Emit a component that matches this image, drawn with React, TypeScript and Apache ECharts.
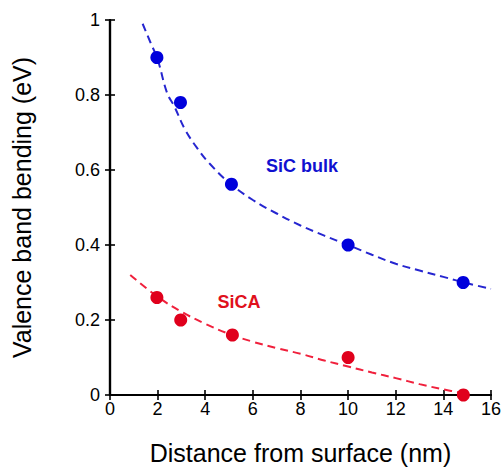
import React, { useEffect, useRef } from "react";
import * as echarts from "echarts";

// Measured points (distance nm, band bending eV)
const sicBulkPoints: [number, number][] = [
  [1.97, 0.9],
  [2.96, 0.78],
  [5.1, 0.562],
  [10.0, 0.4],
  [14.83, 0.3],
];
const sicaPoints: [number, number][] = [
  [1.97, 0.26],
  [2.97, 0.2],
  [5.14, 0.16],
  [10.0, 0.1],
  [14.84, 0.0],
];
// Dashed fit curves
const sicBulkFit: [number, number][] = [
  [1.37, 0.99], [1.7, 0.94], [2.0, 0.895], [2.4, 0.805], [2.7, 0.77],
  [3.15, 0.708], [3.7, 0.655], [4.2, 0.616], [5.0, 0.566], [6.0, 0.52],
  [7.0, 0.484], [8.0, 0.452], [9.0, 0.425], [10.0, 0.4], [11.0, 0.374],
  [12.0, 0.35], [13.0, 0.332], [14.0, 0.315], [15.0, 0.298], [16.0, 0.283],
];
const sicaFit: [number, number][] = [
  [0.85, 0.32], [2.0, 0.262], [3.0, 0.222], [4.0, 0.19], [5.0, 0.163],
  [6.0, 0.142], [7.0, 0.125], [8.0, 0.11], [9.0, 0.092], [10.0, 0.076],
  [11.0, 0.06], [12.0, 0.045], [13.0, 0.029], [14.0, 0.015], [15.0, 0.003],
];
const xTicks = { min: 0, max: 16, interval: 2 };
const yTicks = { min: 0, max: 1, interval: 0.2 };
const xTitle = "Distance from surface (nm)";
const yTitle = "Valence band bending (eV)";
const labelBulk = "SiC bulk";
const labelSica = "SiCA";

const FONT = "'Liberation Sans', Arial, Helvetica, sans-serif";
const BLUE_DOT = "#0000dc";
const BLUE_LINE = "#2626d0";
const RED_DOT = "#e0001c";
const RED_LINE = "#f0203c";

export default function App() {
  const ref = useRef<HTMLDivElement>(null);
  useEffect(() => {
    document.body.style.margin = "0";
    const chart = echarts.init(ref.current!, null, { renderer: "svg" });
    const axisLine = { show: true, lineStyle: { color: "#000", width: 2.2 } };
    const tick = { show: true, inside: true, length: 5, lineStyle: { color: "#000", width: 1.6 } };
    const yFmt = (v: number) => (v === 0 ? "0" : v === 1 ? "1" : String(Math.round(v * 10) / 10));
    chart.setOption({
      animation: false,
      backgroundColor: "#fff",
      grid: { left: 110, top: 20, right: 13, bottom: 68 },
      xAxis: [
        {
          type: "value",
          ...xTicks,
          position: "bottom",
          axisLine,
          axisTick: tick,
          splitLine: { show: false },
          axisLabel: { color: "#000", fontSize: 18, fontFamily: FONT, margin: 5 },
          name: xTitle,
          nameLocation: "middle",
          nameGap: 45,
          nameTextStyle: { color: "#000", fontSize: 25, fontFamily: FONT },
        },
        {
          type: "value",
          ...xTicks,
          position: "top",
          axisLine,
          axisTick: tick,
          splitLine: { show: false },
          axisLabel: { show: false },
        },
      ],
      yAxis: [
        {
          type: "value",
          ...yTicks,
          position: "left",
          axisLine,
          axisTick: tick,
          splitLine: { show: false },
          axisLabel: { color: "#000", fontSize: 18, fontFamily: FONT, margin: 10, formatter: yFmt },
          name: yTitle,
          nameLocation: "middle",
          nameGap: 76,
          nameRotate: 90,
          nameTextStyle: { color: "#000", fontSize: 25, fontFamily: FONT },
        },
        {
          type: "value",
          ...yTicks,
          position: "right",
          axisLine,
          axisTick: tick,
          splitLine: { show: false },
          axisLabel: { show: false },
        },
      ],
      series: [
        {
          type: "line",
          data: sicBulkFit,
          smooth: 0.4,
          showSymbol: false,
          lineStyle: { color: BLUE_LINE, width: 2, type: [8, 5] },
          z: 2,
        },
        {
          type: "line",
          data: sicaFit,
          smooth: 0.4,
          showSymbol: false,
          lineStyle: { color: RED_LINE, width: 2, type: [8, 5] },
          z: 2,
        },
        {
          type: "scatter",
          data: sicBulkPoints,
          symbolSize: 13,
          itemStyle: { color: BLUE_DOT, opacity: 1 },
          z: 3,
        },
        {
          type: "scatter",
          data: sicaPoints,
          symbolSize: 13,
          itemStyle: { color: RED_DOT, opacity: 1 },
          z: 3,
          clip: false,
        },
      ],
      graphic: [
        {
          type: "text",
          x: 302,
          y: 166,
          style: {
            text: labelBulk,
            fill: "#1010d0",
            font: `bold 18px ${FONT}`,
            align: "center",
            verticalAlign: "middle",
          },
        },
        {
          type: "text",
          x: 239,
          y: 302,
          style: {
            text: labelSica,
            fill: "#e0101c",
            font: `bold 18px ${FONT}`,
            align: "center",
            verticalAlign: "middle",
          },
        },
      ],
    });
    return () => chart.dispose();
  }, []);
  return <div ref={ref} style={{ width: 504, height: 470, position: "absolute", left: 0, top: 0 }} />;
}
